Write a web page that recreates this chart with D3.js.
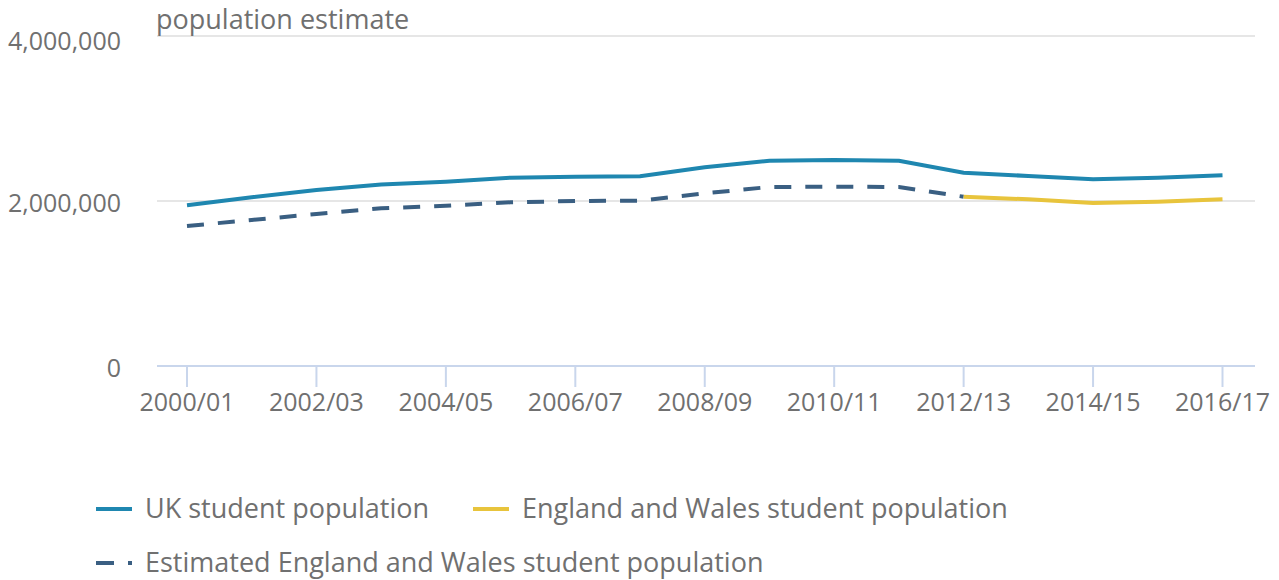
<!DOCTYPE html>
<html><head><meta charset="utf-8">
<script src="https://cdn.jsdelivr.net/npm/d3@7"></script>
<style>
body{margin:0;background:#fff;}
text{font-family:"Open Sans",sans-serif;fill:#707070;}
</style></head>
<body><svg id="c" width="1279" height="580"></svg>
<script>
const years = ["2000/01","2001/02","2002/03","2003/04","2004/05","2005/06","2006/07","2007/08","2008/09","2009/10","2010/11","2011/12","2012/13","2013/14","2014/15","2015/16","2016/17"];
const ukValues = [1948000,2045000,2133000,2200000,2234000,2283000,2295000,2300000,2409000,2488000,2497000,2488000,2343000,2303000,2263000,2283000,2312000];
const ewEstimated = [1697000,1770000,1842000,1912000,1943000,1984000,2000000,2004000,2093000,2170000,2173000,2170000,2052000,null,null,null,null];
const ewValues = [null,null,null,null,null,null,null,null,null,null,null,null,2052000,2020000,1976000,1990000,2020000];
const yTicks = [0,2000000,4000000];
const xTickLabels = ["2000/01","2002/03","2004/05","2006/07","2008/09","2010/11","2012/13","2014/15","2016/17"];
const legendItems = [
  {label:"UK student population", color:"#1f87b0", dash:null},
  {label:"England and Wales student population", color:"#e8c43c", dash:null},
  {label:"Estimated England and Wales student population", color:"#3a5f82", dash:"17,14"}
];

const svg = d3.select("#c");
const x = d3.scalePoint().domain(years).range([187,1222.5]);
const y = d3.scaleLinear().domain([0,4000000]).range([366,36]);
const left = 157, right = 1255;

// gridlines
svg.append("g").selectAll("line").data(yTicks.filter(d=>d>0)).join("line")
  .attr("x1",left).attr("x2",right).attr("y1",d=>y(d)).attr("y2",d=>y(d))
  .attr("stroke","#e6e6e6").attr("stroke-width",2);
// y labels
svg.append("g").selectAll("text").data(yTicks).join("text")
  .attr("x",121).attr("y",d=>y(d) + (d===4000000?5:2)).attr("dy","0.35em").attr("text-anchor","end")
  .attr("font-size",25).text(d=>d3.format(",")(d));
// axis title
svg.append("text").attr("x",156).attr("y",29).attr("font-size",27).text("population estimate");
// x axis
svg.append("line").attr("x1",left).attr("x2",right).attr("y1",y(0)).attr("y2",y(0))
  .attr("stroke","#c9d6ec").attr("stroke-width",2);
const xa = svg.append("g");
xa.selectAll("line").data(xTickLabels).join("line")
  .attr("x1",d=>x(d)).attr("x2",d=>x(d)).attr("y1",y(0)).attr("y2",y(0)+21)
  .attr("stroke","#c9d6ec").attr("stroke-width",2);
xa.selectAll("text").data(xTickLabels).join("text")
  .attr("x",d=>x(d)).attr("y",411).attr("text-anchor","middle").attr("font-size",25).text(d=>d);

const line = d3.line().defined(d=>d!=null).x((d,i)=>x(years[i])).y(d=>y(d));
svg.append("path").datum(ewEstimated).attr("d",line).attr("fill","none")
  .attr("stroke","#3a5f82").attr("stroke-width",4).attr("stroke-dasharray","17,14");
svg.append("path").datum(ewValues).attr("d",line).attr("fill","none")
  .attr("stroke","#e8c43c").attr("stroke-width",4);
svg.append("path").datum(ukValues).attr("d",line).attr("fill","none")
  .attr("stroke","#1f87b0").attr("stroke-width",4);

// legend
const lg = svg.append("g");
const pos = [{x:96,y:509},{x:473,y:509},{x:96,y:563}];
legendItems.forEach((it,i)=>{
  const p = pos[i];
  const l = lg.append("line").attr("x1",p.x).attr("x2",p.x+36).attr("y1",p.y).attr("y2",p.y)
    .attr("stroke",it.color).attr("stroke-width",4);
  if(it.dash) l.attr("stroke-dasharray","18,14");
  lg.append("text").attr("x",p.x+49).attr("y",p.y).attr("dy","0.35em").attr("font-size",27).text(it.label);
});
</script></body></html>
